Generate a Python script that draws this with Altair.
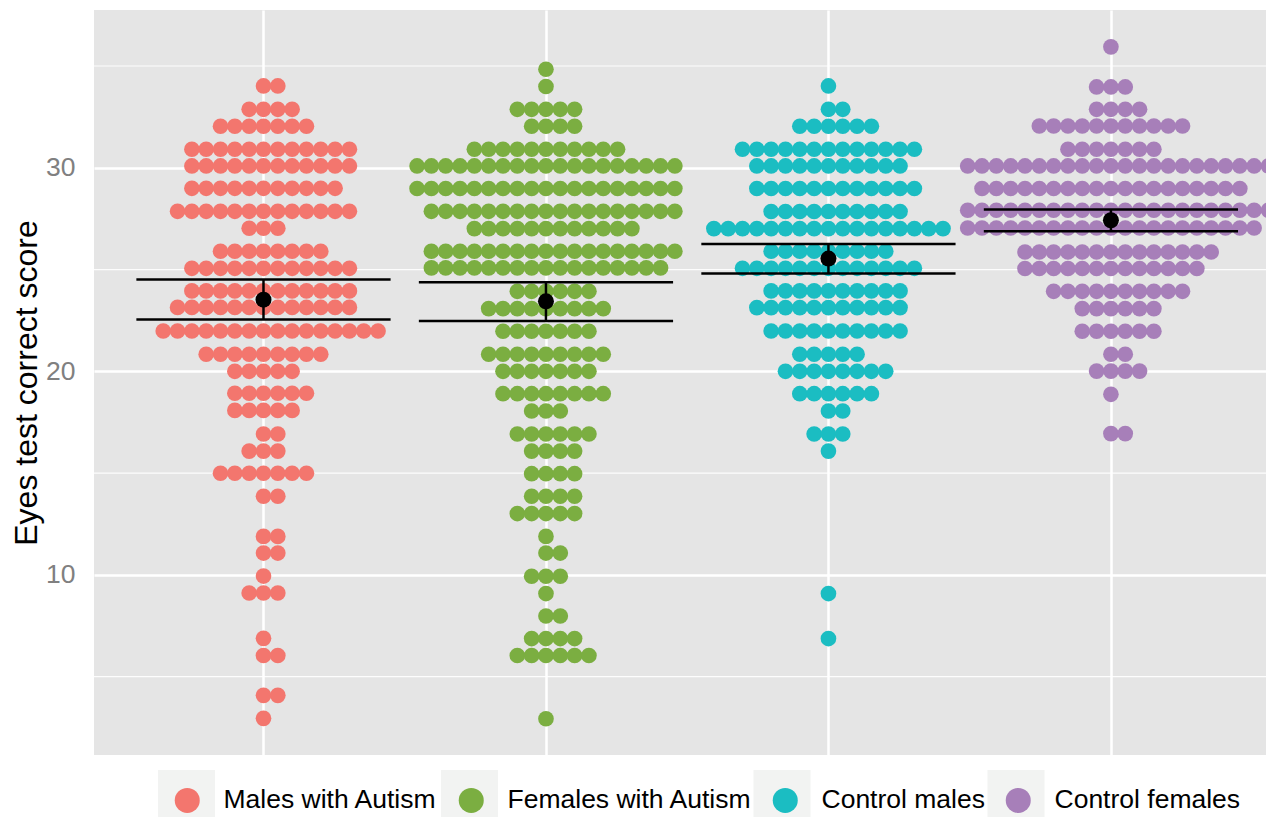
import altair as alt
import pandas as pd

# ---- data ----
groups = ["Males with Autism", "Females with Autism", "Control males", "Control females"]
colors = ["#F3766E", "#7BAE41", "#1BBDC2", "#A77FB9"]

# dot rows (bin centres of the dot plot) and number of dots in each row
males_aut_rows = [34.02, 32.87, 32.04, 30.91, 30.09, 28.99, 27.86, 27.03, 25.90, 25.06,
                  23.95, 23.14, 21.98, 20.84, 20.00, 18.92, 18.08, 16.92, 16.08, 14.99,
                  13.86, 11.89, 11.07, 9.94, 9.11, 6.88, 6.04, 4.08, 2.95]
males_aut_counts = [2, 4, 7, 12, 12, 11, 13, 3, 8, 12,
                    12, 13, 16, 9, 5, 6, 5, 2, 3, 7,
                    2, 2, 2, 1, 3, 1, 2, 2, 1]

females_aut_rows = [34.84, 33.99, 32.87, 32.04, 30.91, 30.09, 28.98, 27.86, 27.01, 25.90,
                    25.08, 23.93, 23.08, 21.97, 20.84, 20.00, 18.90, 18.05, 16.92, 16.08,
                    14.97, 13.86, 13.01, 11.89, 11.07, 9.93, 9.08, 7.98, 6.87, 6.04, 2.93]
females_aut_counts = [1, 1, 5, 4, 11, 19, 19, 18, 12, 18,
                      17, 6, 9, 7, 9, 7, 8, 3, 6, 4,
                      4, 4, 5, 1, 2, 3, 1, 2, 4, 6, 1]

control_m_rows = [34.02, 32.87, 32.04, 30.91, 30.09, 28.98, 27.85, 27.01, 25.90, 25.06,
                  23.95, 23.13, 21.98, 20.84, 20.00, 18.90, 18.05, 16.92, 16.08, 9.08, 6.87]
control_m_counts = [1, 2, 6, 13, 11, 12, 10, 17, 9, 13,
                    10, 11, 10, 5, 8, 6, 2, 3, 1, 1, 1]

control_f_rows = [35.94, 33.97, 32.87, 32.05, 30.91, 30.09, 28.98, 27.91, 27.04, 25.86,
                  25.05, 23.93, 23.08, 21.97, 20.84, 20.01, 18.87, 16.94]
control_f_counts = [1, 3, 4, 11, 7, 22, 19, 22, 21, 14,
                    13, 10, 6, 6, 2, 4, 1, 2]

# mean and interval per group
means = [23.52, 23.44, 25.54, 27.42]
ci_low = [22.54, 22.47, 24.80, 26.88]
ci_high = [24.51, 24.37, 26.26, 27.95]

minor_breaks = [5, 15, 25, 35]
major_breaks = [10, 20, 30]

# ---- build tables ----
DOT_STEP = 0.0507      # horizontal spacing of stacked dots, in group units
CAP_HALF = 0.45        # half width of the error bar caps

all_rows = [males_aut_rows, females_aut_rows, control_m_rows, control_f_rows]
all_counts = [males_aut_counts, females_aut_counts, control_m_counts, control_f_counts]

recs = []
for gi, (rows, counts) in enumerate(zip(all_rows, all_counts)):
    centre = gi + 1
    for v, n in zip(rows, counts):
        start = -((n - 1) // 2)
        for k in range(n):
            recs.append({"group": groups[gi], "x": centre + (start + k) * DOT_STEP, "y": v})
dots = pd.DataFrame(recs)

summary = pd.DataFrame({
    "group": groups,
    "key": ["key1", "key2", "key3", "key4"],
    "g": [1, 2, 3, 4],
    "mean": means,
    "lo": ci_low,
    "hi": ci_high,
})
summary["xl"] = summary["g"] - CAP_HALF
summary["xr"] = summary["g"] + CAP_HALF
caps = pd.concat([
    summary[["xl", "xr"]].assign(v=summary["lo"]),
    summary[["xl", "xr"]].assign(v=summary["hi"]),
])
minor_df = pd.DataFrame({"v": minor_breaks})

FONT = "Liberation Sans"
LABEL_SIZE = 26.5
KEY_FILL = "#F2F3F2"
KEY_X = [64, 347, 659.5, 893.5]   # left edge of each grey legend key box (px from plot left)

xscale = alt.Scale(domain=[0.4, 4.549], nice=False, zero=False)
yscale = alt.Scale(domain=[1.15, 37.75], nice=False, zero=False)
xaxis = alt.Axis(values=[1, 2, 3, 4], grid=True, gridColor="white", gridWidth=2.5,
                 labels=False, ticks=False, domain=False, title=None)
yaxis = alt.Axis(values=major_breaks, grid=True, gridColor="white", gridWidth=2.5,
                 ticks=False, domain=False, labelFontSize=LABEL_SIZE, labelColor="#808080",
                 labelFont=FONT, labelPadding=19,
                 title="Eyes test correct score", titleFontSize=32, titleFont=FONT,
                 titleFontWeight="normal", titleColor="black", titlePadding=2)

minor = alt.Chart(minor_df).mark_rule(color="white", strokeWidth=1.2, opacity=0.9).encode(
    y=alt.Y("v:Q", scale=yscale, axis=yaxis)
)

# invisible one-row layers, each providing one light grey legend key box
key_layers = []
for i in range(4):
    key_layers.append(
        alt.Chart(summary.iloc[[i]]).mark_point(filled=True, color=KEY_FILL, opacity=0, size=1).encode(
            x=alt.X("g:Q", scale=xscale, axis=xaxis),
            y=alt.Y("mean:Q", scale=yscale, axis=yaxis),
            shape=alt.Shape("key:N", scale=alt.Scale(domain=[summary["key"][i]], range=["square"]),
                            legend=alt.Legend(orient="none", legendX=KEY_X[i], legendY=760,
                                              direction="horizontal", title=None,
                                              symbolSize=3249, symbolOpacity=1,
                                              symbolFillColor=KEY_FILL, symbolStrokeWidth=0,
                                              labelExpr="''", labelOffset=0, padding=0,
                                              zindex=0)),
        )
    )

points = alt.Chart(dots).mark_circle(size=245, opacity=1).encode(
    x=alt.X("x:Q", scale=xscale, axis=xaxis),
    y=alt.Y("y:Q", scale=yscale, axis=yaxis),
    color=alt.Color("group:N", scale=alt.Scale(domain=groups, range=colors),
                    legend=alt.Legend(orient="none", legendX=80, legendY=777,
                                      direction="horizontal", title=None,
                                      symbolType="circle", symbolSize=625,
                                      symbolStrokeWidth=0,
                                      labelFontSize=LABEL_SIZE, labelFont=FONT,
                                      labelColor="black", labelLimit=500,
                                      labelOffset=23, columnPadding=20, padding=0,
                                      zindex=1)),
)

cap_rules = alt.Chart(caps).mark_rule(color="black", strokeWidth=2.5).encode(
    x=alt.X("xl:Q", scale=xscale, axis=xaxis),
    x2="xr:Q",
    y=alt.Y("v:Q", scale=yscale, axis=yaxis),
)

bars = alt.Chart(summary).mark_rule(color="black", strokeWidth=2.5).encode(
    x=alt.X("g:Q", scale=xscale, axis=xaxis),
    y=alt.Y("lo:Q", scale=yscale, axis=yaxis),
    y2="hi:Q",
)

mean_pts = alt.Chart(summary).mark_circle(size=256, color="black", opacity=1).encode(
    x=alt.X("g:Q", scale=xscale, axis=xaxis),
    y=alt.Y("mean:Q", scale=yscale, axis=yaxis),
)

chart = alt.layer(minor, *key_layers, points, cap_rules, bars, mean_pts).resolve_scale(
    shape="independent"
).resolve_legend(shape="independent").properties(
    width=1172,
    height=745,
    autosize=alt.AutoSizeParams(type="none"),
    padding={"left": 86, "top": 2, "right": 0, "bottom": 62},
    background="white",
).configure(font=FONT).configure_view(fill="#E5E5E5", stroke=None)

chart.save("out.html", embed_options={"renderer": "svg", "actions": False})
